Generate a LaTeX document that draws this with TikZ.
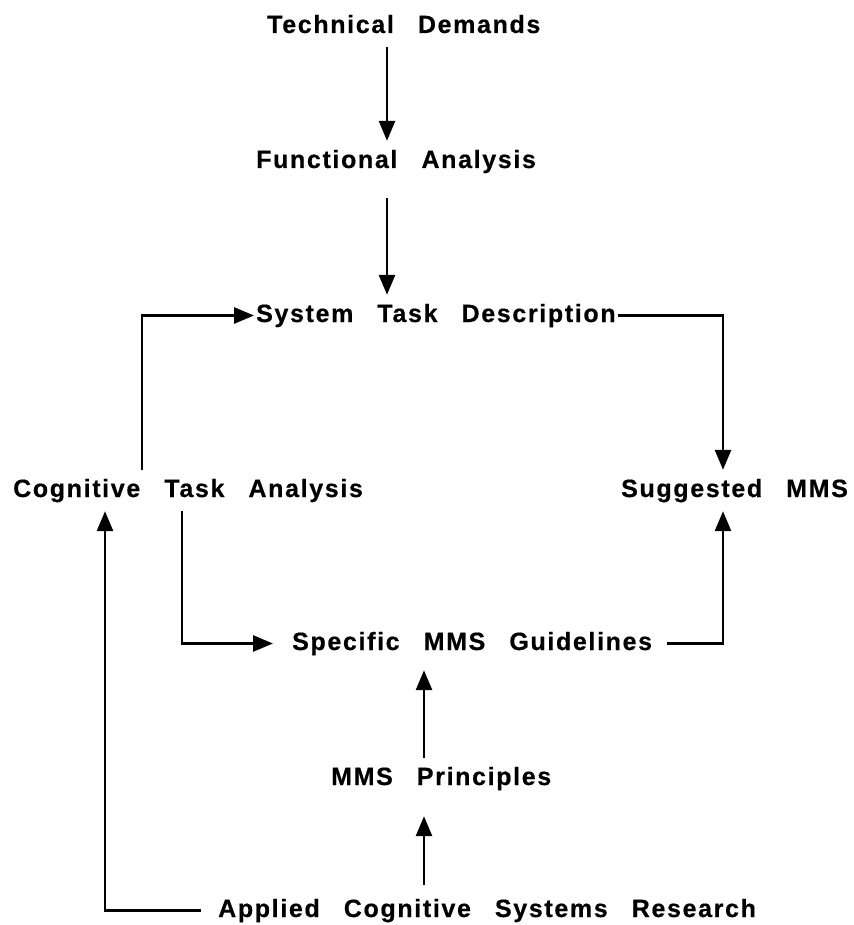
\documentclass[tikz,border=0pt]{standalone}
\usepackage{fontspec}
\newfontfamily\labelfont{Liberation Sans}[LetterSpace=6.6, WordSpace=2.8, BoldFeatures={FakeBold=0.5}]
\usetikzlibrary{arrows.meta}
\tikzset{
  lbl/.style={inner xsep=2pt, inner ysep=9pt, text height=18pt, text depth=5pt,
    anchor=base west, font=\labelfont\bfseries\fontsize{25}{30}\selectfont},
  link/.style={line width=2.8pt, line cap=butt, line join=miter},
  arr/.style={link, -{Triangle[length=20pt, width=16pt]}}
}
\begin{document}
\begin{tikzpicture}[x=1pt, y=-1pt]
  \useasboundingbox (0,0) rectangle (853,925);

  % text nodes (position = left edge at baseline)
  \node[lbl] (td)   at (265,33)  {Technical Demands};
  \node[lbl] (fa)   at (254,168) {Functional Analysis};
  \node[lbl] (std)  at (254,322) {System Task Description};
  \node[lbl] (cta)  at (11,497)  {Cognitive Task Analysis};
  \node[lbl] (sm)   at (619,497) {Suggested MMS};
  \node[lbl] (smg)  at (290,650) {Specific MMS Guidelines};
  \node[lbl] (mp)   at (329,785) {MMS Principles};
  \node[lbl] (acsr) at (216,917) {Applied Cognitive Systems Research};

  % columns used by the vertical connectors
  \coordinate (cA) at (387,0);
  \coordinate (cB) at (142,0);
  \coordinate (cC) at (182,0);
  \coordinate (cD) at (723,0);
  \coordinate (cE) at (424,0);
  \coordinate (cF) at (105,0);

  % main chain
  \draw[arr] (td.south -| cA) -- (fa.north -| cA);
  \draw[arr, shorten <=16pt] (fa.south -| cA) -- (std.north -| cA);

  % task analysis feeds the system task description
  \draw[arr] (cta.north -| cB) |- (std.west);

  % system task description to suggested MMS
  \draw[arr] (std.east) -| (sm.north -| cD);

  % cognitive task analysis to specific guidelines
  \draw[arr, shorten >=17pt] (cta.south -| cC) |- (smg.west);

  % guidelines to suggested MMS
  \draw[arr, shorten <=13pt] (smg.east) -| (sm.south -| cD);

  % principles to guidelines
  \draw[arr, shorten >=6pt] (mp.north -| cE) -- (smg.south -| cE);

  % research to principles
  \draw[arr, shorten <=5pt, shorten >=17pt] (acsr.north -| cE) -- (mp.south -| cE);

  % research back to cognitive task analysis
  \draw[arr, shorten <=15pt] (acsr.west) -| (cta.south -| cF);
\end{tikzpicture}
\end{document}
